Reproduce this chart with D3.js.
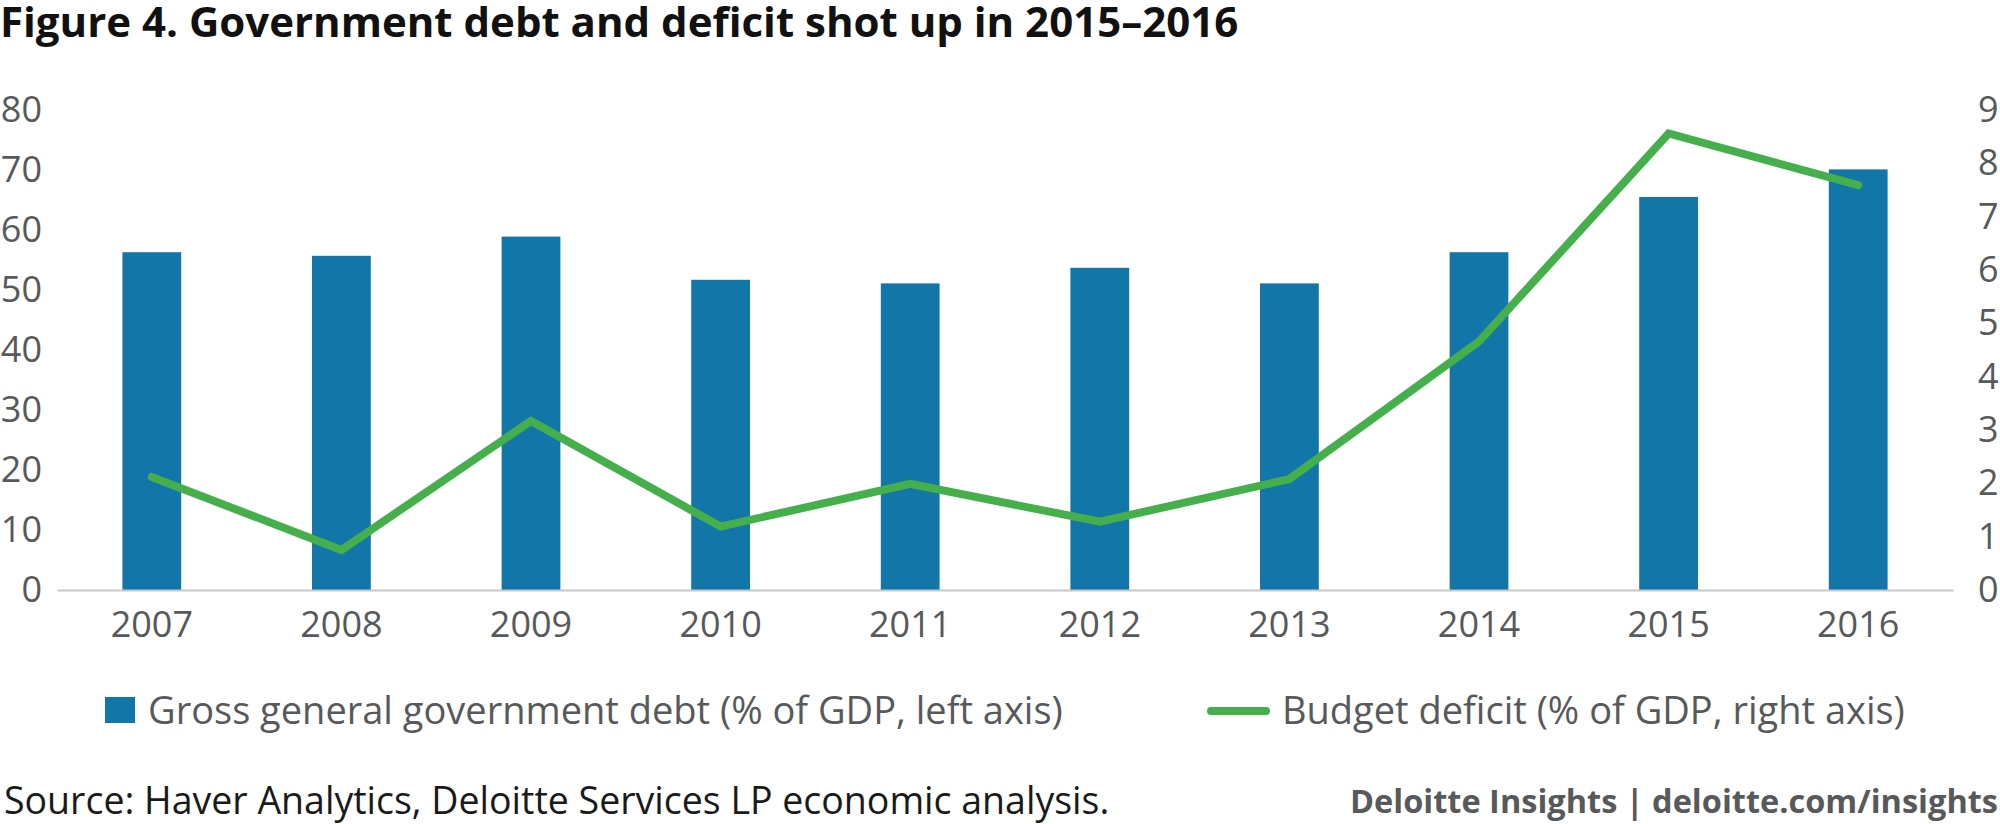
<!DOCTYPE html>
<html>
<head>
<meta charset="utf-8">
<script src="https://cdn.jsdelivr.net/npm/d3@7"></script>
<style>
  html, body { margin: 0; padding: 0; background: #ffffff; }
  svg { display: block; font-family: "Open Sans", "Noto Sans", sans-serif; }
</style>
</head>
<body>
<svg id="chart" width="2000" height="824"></svg>
<script>
// ---- Data ----
const years = ["2007", "2008", "2009", "2010", "2011", "2012", "2013", "2014", "2015", "2016"];
const debt = [56.3, 55.7, 58.9, 51.7, 51.1, 53.7, 51.1, 56.3, 65.5, 70.1];
const deficit = [2.12, 0.75, 3.17, 1.19, 1.99, 1.28, 2.08, 4.66, 8.56, 7.59];
const leftTicks = [0, 10, 20, 30, 40, 50, 60, 70, 80];
const rightTicks = [0, 1, 2, 3, 4, 5, 6, 7, 8, 9];
const titleText = "Figure 4. Government debt and deficit shot up in 2015\u20132016";
const debtLabel = "Gross general government debt (% of GDP, left axis)";
const deficitLabel = "Budget deficit (% of GDP, right axis)";
const sourceText = "Source: Haver Analytics, Deloitte Services LP economic analysis.";
const brandText = "Deloitte Insights | deloitte.com/insights";

// ---- Styles ----
const barColor = "#1276a9";
const lineColor = "#45b04b";
const tickColor = "#58595b";

const svg = d3.select("#chart");

const x = d3.scaleBand().domain(years).range([57, 1953]).paddingInner(0.69).paddingOuter(0.345);
const yL = d3.scaleLinear().domain([0, 80]).range([590, 110]);
const yR = d3.scaleLinear().domain([0, 9]).range([590, 110]);

// Title
svg.append("text")
  .attr("x", 0).attr("y", 37)
  .attr("font-size", 42).attr("font-weight", 700).attr("fill", "#111111")
  .text(titleText);

// Bars
svg.append("g").selectAll("rect").data(years).join("rect")
  .attr("x", d => x(d))
  .attr("y", (d, i) => yL(debt[i]))
  .attr("width", x.bandwidth())
  .attr("height", (d, i) => yL(0) - yL(debt[i]))
  .attr("fill", barColor);

// Bottom axis
const gx = svg.append("g").attr("transform", "translate(0,590)")
  .call(d3.axisBottom(x).tickSize(0).tickPadding(21));
gx.select(".domain").attr("stroke", "#c8c8c8").attr("stroke-width", 2);
gx.selectAll("text").attr("font-size", 36).attr("fill", tickColor).attr("font-family", "Open Sans");

// Left axis
const gl = svg.append("g").attr("transform", "translate(44,0)")
  .call(d3.axisLeft(yL).tickValues(leftTicks).tickSize(0).tickPadding(2));
gl.select(".domain").remove();
gl.selectAll("text").attr("font-size", 36).attr("fill", tickColor).attr("font-family", "Open Sans");

// Right axis
const gr = svg.append("g").attr("transform", "translate(1976,0)")
  .call(d3.axisRight(yR).tickValues(rightTicks).tickSize(0).tickPadding(2));
gr.select(".domain").remove();
gr.selectAll("text").attr("font-size", 36).attr("fill", tickColor).attr("font-family", "Open Sans");

// Line
const line = d3.line()
  .x((d, i) => x(years[i]) + x.bandwidth() / 2)
  .y(d => yR(d));
svg.append("path").datum(deficit)
  .attr("d", line)
  .attr("fill", "none")
  .attr("stroke", lineColor)
  .attr("stroke-width", 8)
  .attr("stroke-linejoin", "miter")
  .attr("stroke-linecap", "round");

// Legend
const lg = svg.append("g");
lg.append("rect").attr("x", 105).attr("y", 697).attr("width", 30).attr("height", 26).attr("fill", barColor);
lg.append("text").attr("x", 148).attr("y", 724).attr("font-size", 38).attr("fill", tickColor).text(debtLabel);
lg.append("line").attr("x1", 1211).attr("x2", 1266).attr("y1", 711).attr("y2", 711)
  .attr("stroke", lineColor).attr("stroke-width", 8).attr("stroke-linecap", "round");
lg.append("text").attr("x", 1282).attr("y", 724).attr("font-size", 38).attr("fill", tickColor).text(deficitLabel);

// Footer
svg.append("text").attr("x", 4).attr("y", 814).attr("font-size", 37.5).attr("fill", "#1a1a1a").text(sourceText);
svg.append("text").attr("x", 1998).attr("y", 813).attr("text-anchor", "end")
  .attr("font-size", 32.5).attr("font-weight", 700).attr("fill", tickColor).text(brandText);
</script>
</body>
</html>
